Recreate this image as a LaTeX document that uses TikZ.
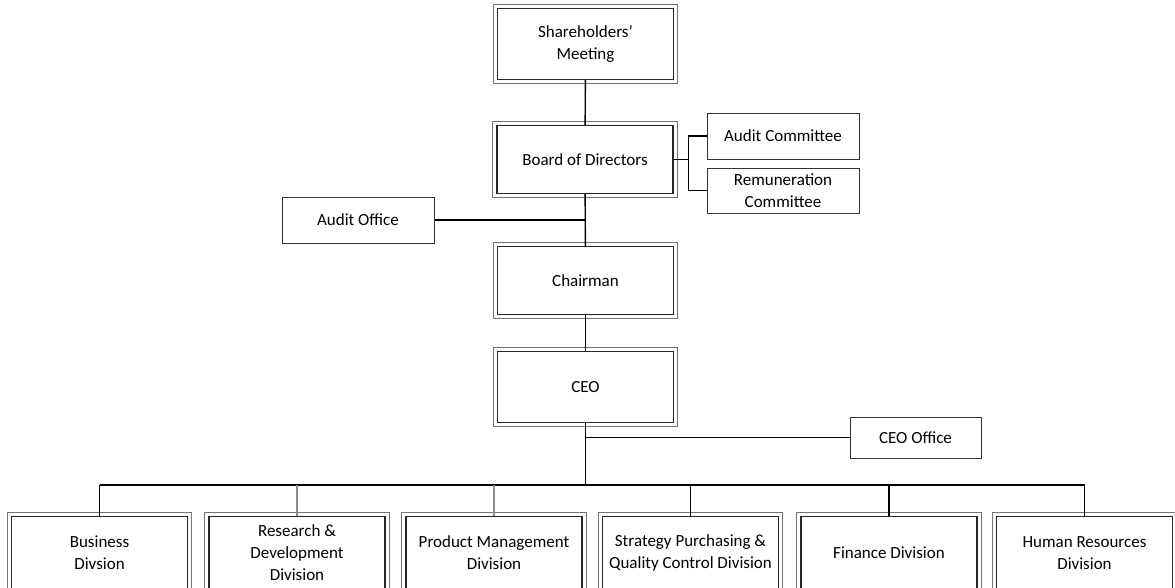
\documentclass[tikz,border=0pt]{standalone}
\usepackage{fontspec}
\setmainfont{Carlito}
\usetikzlibrary{positioning}

\tikzset{
  dbox/.style={draw=black!85, line width=1.2pt, align=center, inner sep=0pt, minimum width=176pt, minimum height=68pt},
  frame/.style={draw=black!55, line width=0.9pt},
  sbox/.style={draw=black!80, line width=1pt, align=center, inner sep=0pt, minimum width=152pt, minimum height=46pt},
  link/.style={line width=1.4pt},
  greylink/.style={line width=1.4pt, black!45}
}

\begin{document}
\begin{tikzpicture}[x=1pt, y=-1pt, font=\fontsize{17}{22}\selectfont]
            \useasboundingbox (0,0) rectangle (1175,587);
            \node[dbox, minimum height=71pt] (share) at (585.5,44) {Shareholders'\\Meeting};
            \node[dbox] (board) at (585,159.5) {Board of Directors};
            \node[sbox] (ac) at (783,136) {Audit Committee};
            \node[sbox, minimum height=45pt] (rc) at (783,190.5) {Remuneration\\Committee};
            \node[sbox] (ao) at (358,220) {Audit Office};
            \node[dbox] (chair) at (585.5,280.5) {Chairman};
            \node[dbox, minimum height=71pt] (ceo) at (585.5,387) {CEO};
            \node[sbox, minimum width=131pt, minimum height=41pt] (ceoo) at (915.5,437.5) {CEO Office};
            \coordinate (bus) at (585.5,485);
            % divisions
            \node[dbox, minimum height=73pt] (biz) at (99.5,553) {Business\\Divsion};
            \node[dbox, minimum height=73pt] (rd) at (297,553) {Research \&\\Development\\Division};
            \node[dbox, minimum height=73pt] (pm) at (494,553) {Product Management\\Division};
            \node[dbox, minimum height=73pt] (sp) at (690.5,553) {Strategy Purchasing \&\\Quality Control Division};
            \node[dbox, minimum height=73pt] (fin) at (889,553) {Finance Division};
            \node[dbox, minimum height=73pt] (hr) at (1084.5,553) {Human Resources\\Division};
            % outer frames of the double boxes
            \foreach \n in {share, board, chair, ceo, biz, rd, pm, sp, fin, hr}
              \draw[frame] ([shift={(-3.5pt,3.5pt)}]\n.north west) rectangle ([shift={(3.5pt,-3.5pt)}]\n.south east);

            \draw[link] (share) -- (board);
            \draw[link] (board) -- (chair);
            \draw[link] (chair) -- (ceo);
            \draw[link] (board.east) -- ++(15,0) coordinate (split);
            \draw[link] (ac.west) -| (split) |- (rc.west);
            \draw[link] (ao.east) -- (ao.east -| board.south);
            \draw[link] (ceoo.west) -- (ceoo.west -| ceo.south);
            \draw[link] (ceo) -- (bus);
            \draw[link] (biz.north |- bus) -- (hr.north |- bus);
            \foreach \d in {biz, sp, fin, hr}
              \draw[link] (\d.north) -- (\d.north |- bus);
            \foreach \d in {rd, pm}
              \draw[greylink] (\d.north) -- (\d.north |- bus);
          \end{tikzpicture}
\end{document}
